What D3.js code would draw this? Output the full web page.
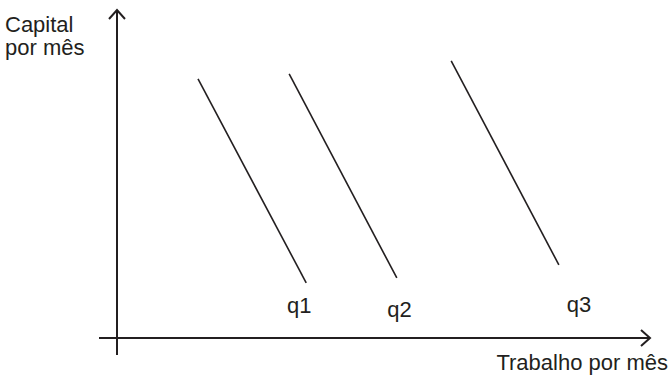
<!DOCTYPE html>
<html>
<head>
<meta charset="utf-8">
<script src="https://cdn.jsdelivr.net/npm/d3@7"></script>
<style>
  html, body { margin: 0; padding: 0; background: #fff; }
  svg { display: block; }
  text { font-family: "Liberation Sans", Arial, sans-serif; fill: #231f20; }
</style>
</head>
<body>
<script>
// Isoquants: labour (x) vs capital (y), three output levels
const curves = ["q1", "q2", "q3"];
const startLabor   = [1.52, 3.23, 6.27];
const startCapital = [7.90, 8.05, 8.45];
const endLabor     = [3.55, 5.25, 8.29];
const endCapital   = [1.68, 1.83, 2.23];
const labelLabor   = [3.19, 5.07, 8.44];
const labelCapital = [0.76, 0.64, 0.79];

const xTitle = "Trabalho por mês";
const yTitle = ["Capital", "por mês"];

const W = 672, H = 378;
const ink = "#231f20";

const svg = d3.select("body").append("svg")
  .attr("width", W).attr("height", H);

const x = d3.scaleLinear().domain([0, 10]).range([117, 650]);
const y = d3.scaleLinear().domain([0, 10]).range([338, 10]);

// axes with open arrowheads
const axisG = svg.append("g")
  .attr("stroke", ink).attr("stroke-width", 2).attr("fill", "none");

axisG.append("line")
  .attr("x1", x(0) - 18).attr("y1", y(0))
  .attr("x2", x(10)).attr("y2", y(0));
axisG.append("line")
  .attr("x1", x(0)).attr("y1", y(0) + 17)
  .attr("x2", x(0)).attr("y2", y(10));

axisG.append("path")
  .attr("d", `M${x(10) - 9},${y(0) - 8} L${x(10)},${y(0)} L${x(10) - 9},${y(0) + 8}`);
axisG.append("path")
  .attr("d", `M${x(0) - 8},${y(10) + 9} L${x(0)},${y(10)} L${x(0) + 8},${y(10) + 9}`);

// isoquant lines
const data = curves.map((name, i) => ({
  name,
  x1: startLabor[i], y1: startCapital[i],
  x2: endLabor[i], y2: endCapital[i],
  lx: labelLabor[i], ly: labelCapital[i]
}));

svg.append("g").selectAll("line")
  .data(data).join("line")
  .attr("x1", d => x(d.x1)).attr("y1", d => y(d.y1))
  .attr("x2", d => x(d.x2)).attr("y2", d => y(d.y2))
  .attr("stroke", ink).attr("stroke-width", 1.6);

svg.append("g").selectAll("text")
  .data(data).join("text")
  .attr("x", d => x(d.lx)).attr("y", d => y(d.ly))
  .attr("font-size", 22)
  .text(d => d.name);

// axis titles
svg.append("g").selectAll("text")
  .data(yTitle).join("text")
  .attr("x", 5).attr("y", (d, i) => 32 + i * 23)
  .attr("font-size", 22)
  .text(d => d);

svg.append("text")
  .attr("x", 668).attr("y", 370)
  .attr("text-anchor", "end")
  .attr("font-size", 22)
  .text(xTitle);
</script>
</body>
</html>
